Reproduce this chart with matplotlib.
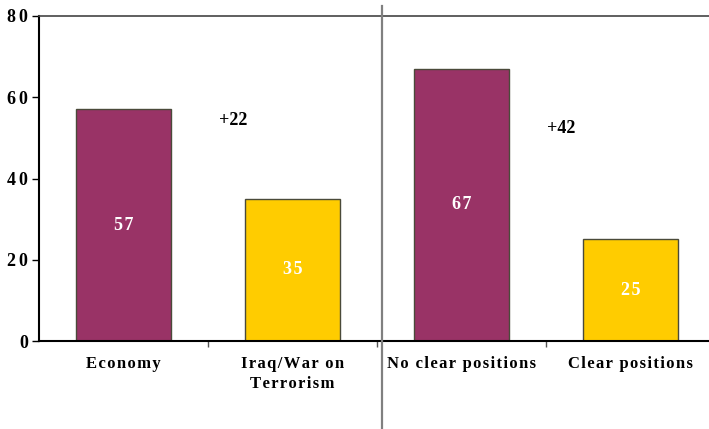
import matplotlib
matplotlib.use("Agg")
import matplotlib.pyplot as plt
from matplotlib.lines import Line2D

categories = ["Economy", "Iraq/War on\nTerrorism", "No clear positions", "Clear positions"]
values = [57, 35, 67, 25]
bar_colors = ["#993366", "#FFCC00", "#993366", "#FFCC00"]
gaps = ["+22", "+42"]
gap_x = [0.65, 2.59]
gap_y = [54.3, 52.4]
yticks = [0, 20, 40, 60, 80]

SERIF = ["Liberation Serif", "DejaVu Serif"]
HAIR = "\u200a"


def spaced(s, sep=HAIR):
    # widen letter spacing within words
    lines = []
    for line in s.split("\n"):
        words = [sep.join(list(w)) for w in line.split(" ")]
        lines.append((" " + HAIR + HAIR).join(words))
    return "\n".join(lines)


fig = plt.figure(figsize=(7.09, 4.29), dpi=100)
W, H = 709, 429
left, right, top, bottom = 39, 709, 16, 341
ax = fig.add_axes([left / W, 1 - bottom / H, (right - left) / W, (bottom - top) / H])

x = list(range(len(categories)))
ax.bar(x, values, width=0.56, color=bar_colors, edgecolor="#4a4a3a", linewidth=1.0, zorder=2)

for xi, v in zip(x, values):
    ax.text(xi, v / 2, spaced(str(v)), ha="center", va="center", color="white",
            fontsize=13, fontweight="bold", family=SERIF, zorder=3)

for gx, gy, g in zip(gap_x, gap_y, gaps):
    ax.text(gx, gy, g, ha="center", va="center", color="black",
            fontsize=13, fontweight="bold", family=SERIF)

ax.set_xlim(-0.5, -0.5 + (right - left) / 169.0)
ax.set_ylim(0, 80)

ax.set_yticks(yticks)
ax.set_yticklabels([spaced(str(t), HAIR + HAIR) for t in yticks], family=SERIF,
                   fontweight="bold", fontsize=13)
ax.tick_params(axis="y", direction="out", length=5, width=1, pad=3)

ax.set_xticks(x)
ax.set_xticklabels([spaced(c) for c in categories], family=SERIF, fontweight="bold",
                   fontsize=12, linespacing=1.3)
ax.set_xticks([0.5, 1.5, 2.5], minor=True)
ax.tick_params(axis="x", which="major", length=0, pad=11)
ax.tick_params(axis="x", which="minor", direction="out", length=4, width=1, color="#555555")

for s in ["left", "bottom"]:
    ax.spines[s].set_color("black")
    ax.spines[s].set_linewidth(1.5)
ax.spines["top"].set_color("#444444")
ax.spines["top"].set_linewidth(1.2)
ax.spines["right"].set_visible(False)

# divider between the two comparisons
fig.add_artist(Line2D([381.5 / W, 381.5 / W], [1 - 6 / H, 0], color="#808080", linewidth=1.6))

fig.savefig("out.png", dpi=100)
